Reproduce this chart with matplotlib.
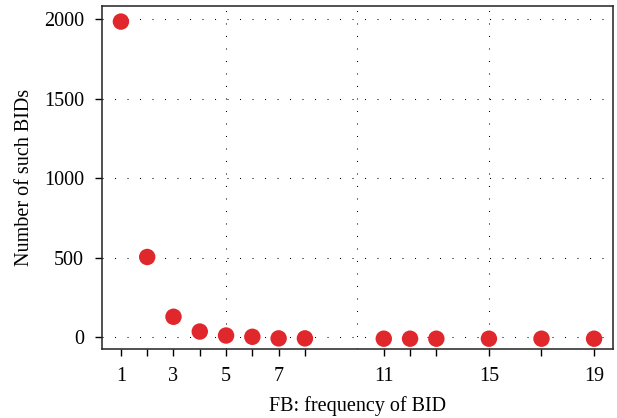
import matplotlib.pyplot as plt
from matplotlib.ticker import FixedLocator

plt.rcParams['font.family'] = ['Liberation Serif', 'DejaVu Serif']

# Frequency of a BID and how many BIDs have that frequency
freq = [1, 2, 3, 4, 5, 6, 7, 8, 11, 12, 13, 15, 17, 19]
counts = [1985, 504, 128, 35, 10, 2, -8, -8, -10, -10, -10, -10, -10, -10]
labelled = [1, 3, 5, 7, 11, 15, 19]

fig = plt.figure(figsize=(6.17, 4.18), dpi=100)
ax = fig.add_axes([0.1653, 0.165, 0.8282, 0.821])

ax.scatter(freq, counts, s=140, color='#e0282c', edgecolors='none', zorder=3)

ax.set_xlim(0.28, 19.72)
ax.set_ylim(-75, 2084)

# x ticks at every observed frequency, labels on a few of them
ax.xaxis.set_major_locator(FixedLocator(freq))
ax.set_xticklabels([str(f) if f in labelled else '' for f in freq])
ax.xaxis.set_minor_locator(FixedLocator([5, 10, 15]))
ax.xaxis.remove_overlapping_locs = False
ax.set_yticks([0, 500, 1000, 1500, 2000])

ax.tick_params(axis='both', which='major', direction='out', length=5,
               width=1.0, labelsize=14.5, color='black', pad=8)
ax.tick_params(axis='x', which='minor', length=0)

dots = dict(color='black', linewidth=0.75, linestyle=(0, (1, 11)))
ax.grid(axis='y', which='major', **dots)
ax.grid(axis='x', which='minor', **dots)
ax.grid(axis='x', which='major', visible=False)
ax.set_axisbelow(True)

for sp in ax.spines.values():
    sp.set_linewidth(1.1)
    sp.set_color('#222222')

ax.set_xlabel('FB: frequency of BID', fontsize=14.5, labelpad=7)
ax.set_ylabel('Number of such BIDs', fontsize=14.5, labelpad=7)

fig.savefig('out.png', dpi=100)
